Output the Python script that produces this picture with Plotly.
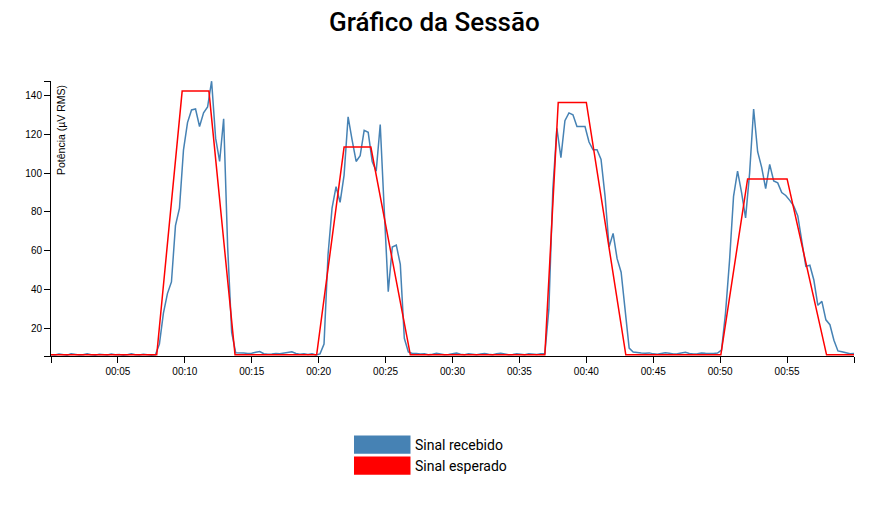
import plotly.graph_objects as go

# ---------------- data ----------------
sample_interval_s = 0.3

# received signal (µV RMS), one reading every 0.3 s from 00:00 to 01:00
received_values = [
    # rest 00:00 - 00:07.8
    6.6, 6.4, 6.9, 6.5, 6.3, 7.0, 6.7, 6.4, 6.6, 7.1, 6.5, 6.3, 6.8, 6.6,
    6.4, 6.9, 6.5, 6.7, 6.3, 6.6, 7.0, 6.5, 6.4, 6.8, 6.6, 6.3, 6.5,
    # contraction 1
    12, 28, 38, 44, 73, 82, 112, 126, 132.5, 133, 124, 131, 134, 147.3,
    118, 106, 128, 62, 18, 7.6,
    # rest
    7.6, 7.4, 7.2, 7.3, 7.8, 8.2, 7.1, 6.8, 6.9, 7.2, 7.0, 7.3, 7.9, 8.1,
    7.2, 6.8, 7.0, 6.7, 7.1, 6.4,
    # contraction 2
    7.0, 12, 58, 82, 93, 85, 99, 129, 117, 106, 109, 122, 121, 106, 101,
    125, 81, 39, 62, 63, 53, 15, 8, 7.2,
    # rest
    7.2, 6.9, 7.0, 6.6, 6.8, 7.3, 6.9, 6.5, 6.7, 7.1, 7.4, 6.8, 6.6, 7.0,
    6.7, 6.5, 6.9, 7.2, 6.8, 6.6, 7.0, 7.3, 6.9, 6.5, 6.7, 7.0, 6.8, 6.6,
    7.1, 6.9, 6.7, 7.0,
    # contraction 3
    7.2, 30, 92, 123, 108, 127, 131, 130, 124, 124, 124, 116, 112, 112,
    107, 88, 62, 69, 56, 49, 28, 10, 8, 7.6,
    # rest
    7.4, 7.3, 7.5, 7.0, 6.8, 7.2, 7.6, 7.3, 6.9, 7.1, 7.5, 7.8, 7.2, 6.9,
    7.0, 7.4, 7.3, 7.1, 7.2,
    # contraction 4
    7.4, 9, 28, 55, 88, 101, 90, 77, 100, 133, 111, 103, 92, 104.5, 96,
    95, 90, 88.5, 86, 83, 78, 64, 52, 52.6, 45, 32, 34, 24.5, 22, 14, 8.5,
    8.1, 7.6, 7.1, 7.2,
]
received_times = [round(i * sample_interval_s, 2) for i in range(len(received_values))]

# expected signal (target envelope)
expected_times = [0, 7.9, 9.8, 11.8, 13.75, 19.85, 21.9, 23.9, 26.85,
                  36.9, 37.9, 40.0, 42.95, 50.05, 52.05, 55.0, 57.95, 60]
expected_values = [6.5, 6.5, 142.2, 142.2, 6.5, 6.5, 113.4, 113.4, 6.5,
                   6.5, 136.4, 136.4, 6.5, 6.5, 97.0, 97.0, 6.5, 6.5]

x_tick_values = [0, 5, 10, 15, 20, 25, 30, 35, 40, 45, 50, 55, 60]
x_tick_labels = ["", "00:05", "00:10", "00:15", "00:20", "00:25", "00:30",
                 "00:35", "00:40", "00:45", "00:50", "00:55", ""]
y_min, y_max = 5.9, 147.4
y_tick_values = [y_min, 20, 40, 60, 80, 100, 120, 140, y_max]
y_tick_labels = ["", "20", "40", "60", "80", "100", "120", "140", ""]

series_names = ["Sinal recebido", "Sinal esperado"]
series_colors = ["#4682b4", "#ff0000"]

# ---------------- layout helpers ----------------
OFF = 8                      # page body margin in the browser
W, H = 891 - 2 * OFF, 505 - 2 * OFF
PLOT_L, PLOT_R, PLOT_T, PLOT_B = 51, 854, 81, 355.7   # page pixels
ML = PLOT_L - OFF
MR = W - (PLOT_R - OFF)
MT = PLOT_T - OFF
MB = H - (PLOT_B - OFF)
PW, PH = W - ML - MR, H - MT - MB


def px(xp):
    return (xp - OFF - ML) / PW


def py(yp):
    return (H - MB - (yp - OFF)) / PH


fig = go.Figure()
fig.add_trace(go.Scatter(x=received_times, y=received_values, mode="lines",
                         name=series_names[0],
                         line=dict(color=series_colors[0], width=1.5)))
fig.add_trace(go.Scatter(x=expected_times, y=expected_values, mode="lines",
                         name=series_names[1],
                         line=dict(color=series_colors[1], width=1.5)))

axis_font = dict(family="Liberation Sans, Arial, sans-serif", size=10, color="#000")

fig.update_layout(
    width=W, height=H,
    margin=dict(l=ML, r=MR, t=MT, b=MB, pad=0),
    paper_bgcolor="white", plot_bgcolor="white",
    showlegend=False,
    xaxis=dict(range=[0, 60], tickmode="array", tickvals=x_tick_values,
               ticktext=x_tick_labels, ticks="outside", ticklen=6,
               tickcolor="#000", tickwidth=1, showline=True, linecolor="#000",
               linewidth=1, showgrid=False, zeroline=False, tickfont=axis_font),
    yaxis=dict(range=[y_min, y_max], tickmode="array", tickvals=y_tick_values,
               ticktext=y_tick_labels, ticks="outside", ticklen=6,
               tickcolor="#000", tickwidth=1, showline=True, linecolor="#000",
               linewidth=1, showgrid=False, zeroline=False, tickfont=axis_font),
)

annotations = [
    dict(text="Gráfico da Sessão", xref="paper", yref="paper",
         x=px(434), y=py(22), xanchor="center", yanchor="middle",
         showarrow=False,
         font=dict(family="Roboto", size=26, color="#000", weight=500)),
    dict(text="Potência (µV RMS)", xref="paper", yref="paper",
         x=px(61), y=py(83), xanchor="center", yanchor="top", textangle=-90,
         showarrow=False,
         font=dict(family="Liberation Sans, Arial, sans-serif", size=10.5, color="#000")),
]
shapes = []
legend_rows = [(435, 453.3), (456, 474.3)]
for name, color, (top, bottom) in zip(series_names, series_colors, legend_rows):
    shapes.append(dict(type="rect", xref="paper", yref="paper",
                       x0=px(354), x1=px(410.5), y0=py(top), y1=py(bottom),
                       fillcolor=color, line=dict(width=0)))
    annotations.append(dict(text=name, xref="paper", yref="paper",
                            x=px(413), y=py((top + bottom) / 2),
                            xanchor="left", yanchor="middle", showarrow=False,
                            font=dict(family="Roboto", size=14, color="#000")))

fig.update_layout(annotations=annotations, shapes=shapes)

fig.write_html("out.html")
